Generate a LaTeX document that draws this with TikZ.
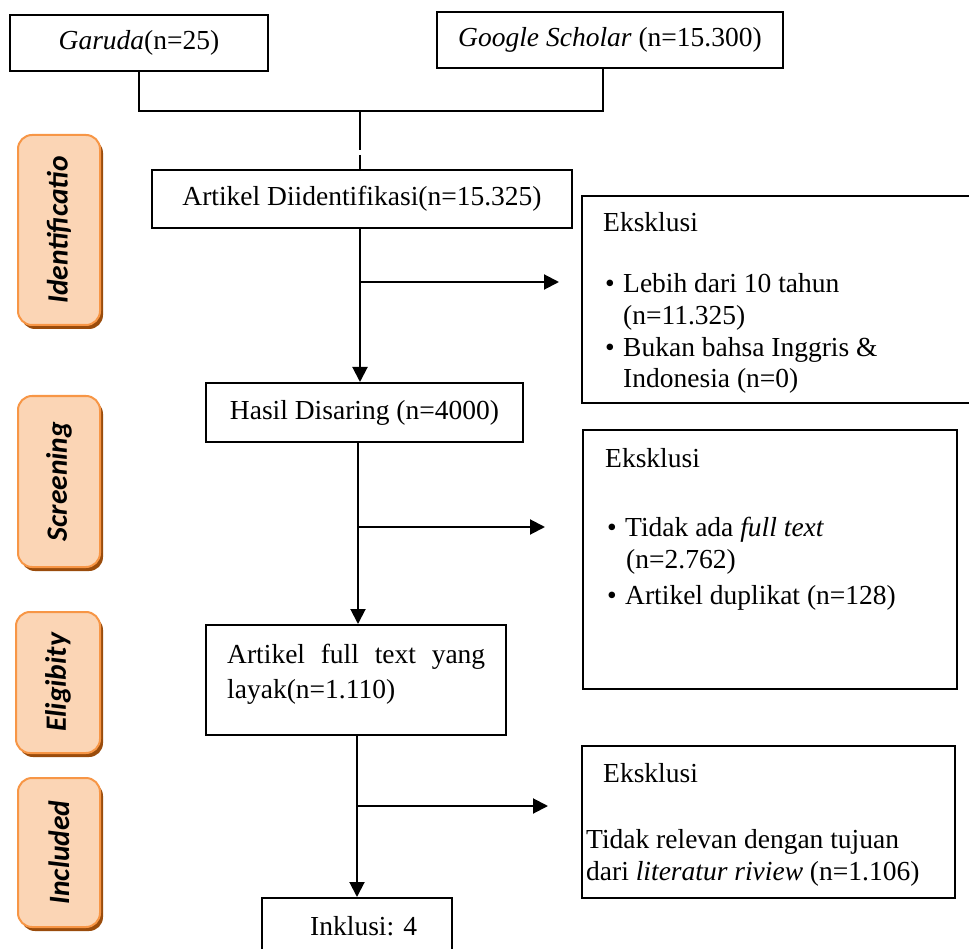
\documentclass[tikz,border=0pt]{standalone}
\usepackage{fontspec}
\setmainfont{Liberation Serif}
\newfontfamily\tabfont{Carlito}
\usetikzlibrary{arrows.meta,shadows}
\definecolor{tabfill}{HTML}{FBD5B5}
\definecolor{tabline}{HTML}{F79646}
\definecolor{tabshadow}{HTML}{9A4C0C}
\begin{document}
\begin{tikzpicture}[x=1pt,y=-1pt,
  font=\fontsize{27.5}{33}\selectfont,
  box/.style={draw, line width=2pt, inner sep=0pt, align=center},
  tab/.style={draw=tabline, line width=2pt, fill=tabfill, rounded corners=14pt,
    general shadow={fill=tabshadow, shadow xshift=3pt, shadow yshift=-4pt}},
  tablabel/.style={rotate=90, inner sep=0pt, font=\tabfont\bfseries\itshape\fontsize{29.5}{31}\selectfont},
  txt/.style={anchor=base west, inner sep=0pt},
  conn/.style={line width=2pt},
  arr/.style={line width=2pt, -{Triangle[length=15pt,width=15pt]}}]
\useasboundingbox (0,0) rectangle (969,949);
\clip (0,0) rectangle (969,949);

% side tabs
\node[tab, minimum width=82pt, minimum height=190pt] (tabI) at (59,230) {};
\node[tablabel] (labI) at (tabI) {Identificatio};
\node[tab, minimum width=82pt, minimum height=171pt] (tabS) at (59,481.5) {};
\node[tablabel] (labS) at (tabS) {Screening};
\node[tab, minimum width=84pt, minimum height=141pt] (tabE) at (58,682.5) {};
\node[tablabel] (labE) at (tabE) {Eligibity};
\node[tab, minimum width=82pt, minimum height=149pt] (tabN) at (59,852.5) {};
\node[tablabel] (labN) at (tabN) {Included};

% main boxes
\node[box, minimum width=258pt, minimum height=56pt] (garuda) at (139,43) {\textit{Garuda}(n=25)};
\node[box, minimum width=346pt, minimum height=56pt] (google) at (610,40) {\textit{Google Scholar} (n=15.300)};
\node[box, minimum width=420pt, minimum height=58pt] (ident) at (362,199) {Artikel Diidentifikasi(n=15.325)};
\node[box, minimum width=317pt, minimum height=59pt] (hasil) at (364.5,412.5) {Hasil Disaring (n=4000)};
\node[box, minimum width=300pt, minimum height=110pt] (full) at (356,680) {};
\node[txt] (fullA) at (227,663) {\makebox[258pt][s]{Artikel full text yang}};
\node[txt] (fullB) at (227,698) {layak(n=1.110)};
\node[box, minimum width=190pt, minimum height=70pt] (inkl) at (357,933) {};
\node[txt] (inklT) at (310,935) {Inklusi: 4};

% exclusion boxes
\node[box, minimum width=393pt, minimum height=207pt] (ex1) at (778.5,299.5) {};
\node[txt] (ex1h) at (603,232) {Eksklusi};
\node[txt] (ex1b1) at (605,293) {\textbullet};
\node[txt] (ex1a) at (623,293) {Lebih dari 10 tahun};
\node[txt] (ex1a2) at (623,325) {(n=11.325)};
\node[txt] (ex1b2) at (605,357) {\textbullet};
\node[txt] (ex1c) at (623,357) {Bukan bahsa Inggris \&};
\node[txt] (ex1c2) at (623,388) {Indonesia (n=0)};

\node[box, minimum width=374pt, minimum height=259pt] (ex2) at (770,559.5) {};
\node[txt] (ex2h) at (605,467) {Eksklusi};
\node[txt] (ex2b1) at (607,536) {\textbullet};
\node[txt] (ex2a) at (625,536) {Tidak ada \textit{full text}};
\node[txt] (ex2a2) at (626,568) {(n=2.762)};
\node[txt] (ex2b2) at (607,604) {\textbullet};
\node[txt] (ex2c) at (625,604) {Artikel duplikat (n=128)};

\node[box, minimum width=373pt, minimum height=152pt] (ex3) at (768.5,822) {};
\node[txt] (ex3h) at (603,782) {Eksklusi};
\node[txt] (ex3a) at (586,848) {Tidak relevan dengan tujuan};
\node[txt] (ex3b) at (586,880) {dari \textit{literatur riview} (n=1.106)};

% connectors
\coordinate (merge) at (360,111);
\draw[conn] (garuda.south) |- (merge) -| ([xshift=-7pt]google.south);
\draw[conn, dash pattern=on 39pt off 5pt on 100pt off 0pt] (merge) -- (merge |- ident.north);
\draw[arr] ([xshift=-2pt]ident.south) -- ([xshift=-2pt]ident.south |- hasil.north);
\coordinate (b1) at (360,282);
\coordinate (b1e) at (559,282);
\draw[arr] (b1) -- (b1e);
\draw[arr] ([xshift=-6.5pt]hasil.south) -- ([xshift=-6.5pt]hasil.south |- full.north);
\coordinate (b2) at (358,527);
\coordinate (b2e) at (545,527);
\draw[arr] (b2) -- (b2e);
\draw[arr] ([xshift=1pt]full.south) -- ([xshift=1pt]full.south |- inkl.north);
\coordinate (b3) at (357,806);
\coordinate (b3e) at (548,806);
\draw[arr] (b3) -- (b3e);
\end{tikzpicture}
\end{document}
